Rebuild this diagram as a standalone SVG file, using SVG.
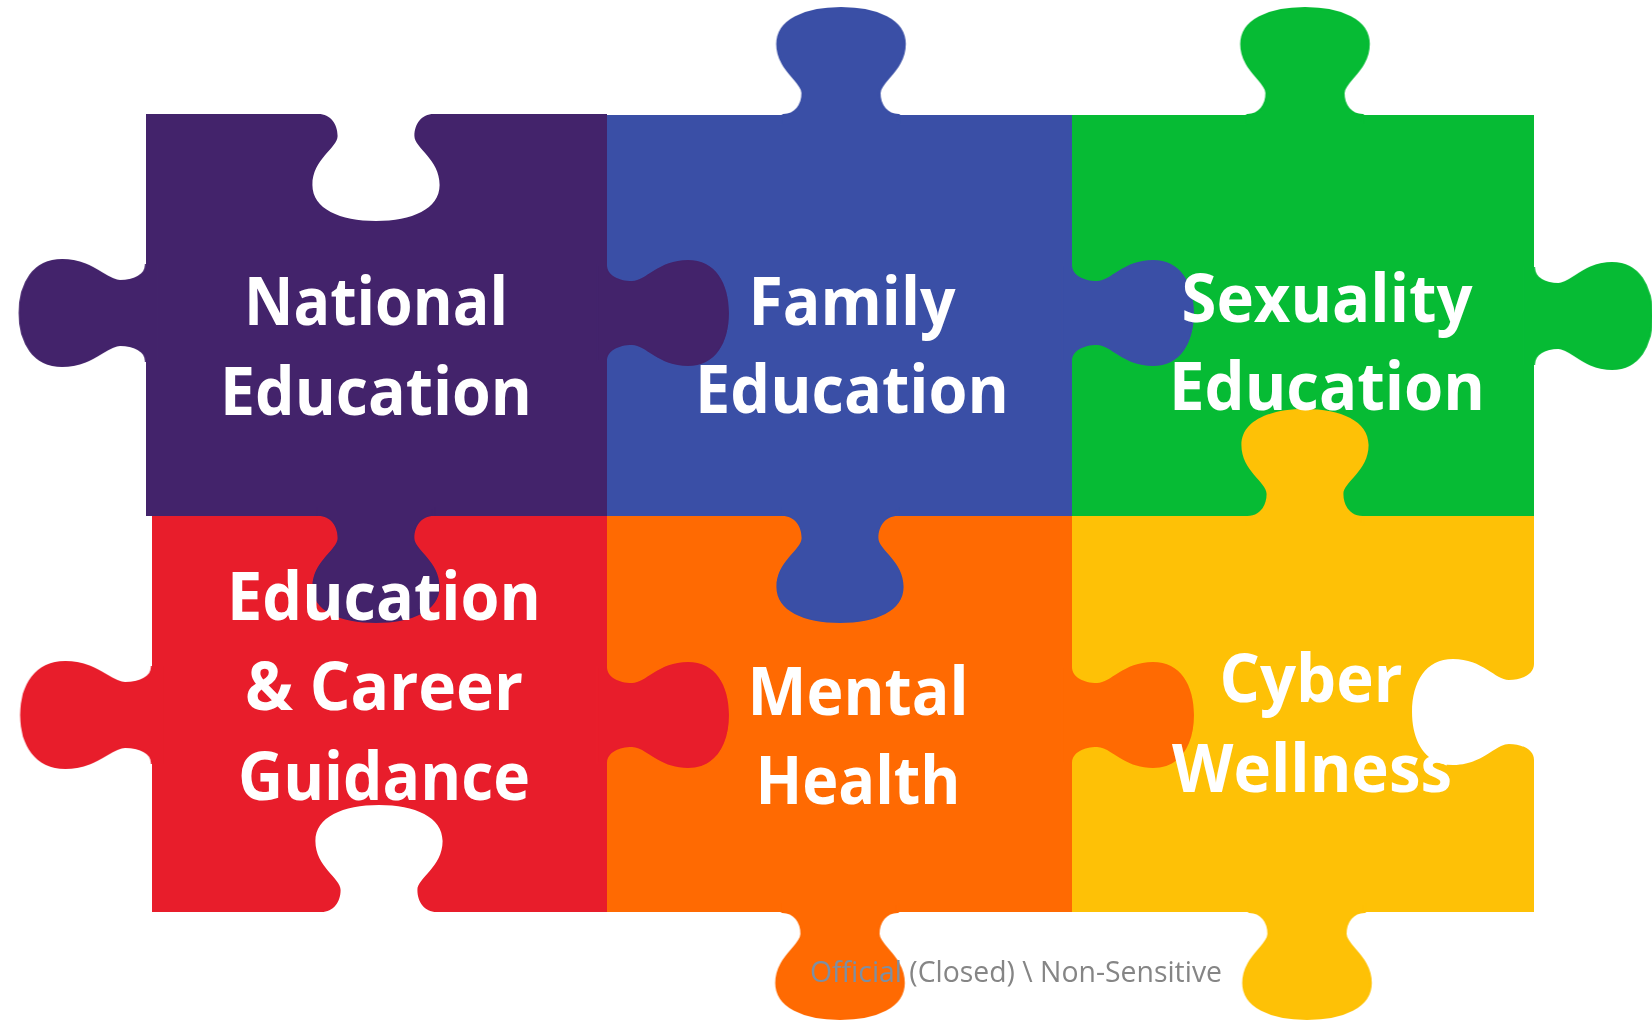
<svg xmlns="http://www.w3.org/2000/svg" xmlns:xlink="http://www.w3.org/1999/xlink" width="1652" height="1023" viewBox="0 0 1652 1023">
  <style>
    .lbl { font-family: "Open Sans", "Noto Sans", "Liberation Sans", sans-serif; font-weight: 700; font-size: 66px; fill: #ffffff; text-anchor: middle; }
    .foot { font-family: "Open Sans", "Noto Sans", "Liberation Sans", sans-serif; font-size: 29px; fill: #858585; }
    .tab { stroke-width: 2; }
    #national { color: #43236b; }
    #family { color: #3a4fa6; }
    #sexuality { color: #06bb34; }
    #career { color: #e81d2b; }
    #mental { color: #ff6a02; }
    #cyber { color: #fec106; }
  </style>
  <defs>
    <path id="tab" d="M -48,-8 L -48,0 C -38,0 -32,10 -32,22 C -32,34 -53,45 -53,71 C -53,95 -30,107 0,107 C 30,107 53,95 53,71 C 53,45 32,34 32,22 C 32,10 38,0 48,0 L 48,-8 Z"/>
    <mask id="m-national" maskUnits="userSpaceOnUse" x="0" y="0" width="1652" height="1023">
      <rect x="0" y="0" width="1652" height="1023" fill="#fff"/>
      <use xlink:href="#tab" href="#tab" fill="#000" transform="matrix(1.2,0,0,1,376,114)"/>
    </mask>
    <mask id="m-family" maskUnits="userSpaceOnUse" x="0" y="0" width="1652" height="1023">
      <rect x="0" y="0" width="1652" height="1023" fill="#fff"/>
      <use xlink:href="#tab" href="#tab" fill="#000" transform="matrix(0,1,1.14,0,607,313)"/>
    </mask>
    <mask id="m-sexuality" maskUnits="userSpaceOnUse" x="0" y="0" width="1652" height="1023">
      <rect x="0" y="0" width="1652" height="1023" fill="#fff"/>
      <use xlink:href="#tab" href="#tab" fill="#000" transform="matrix(0,1,1.14,0,1072,313)"/>
      <use xlink:href="#tab" href="#tab" fill="#000" transform="matrix(1.2,0,0,-1,1305,516)"/>
    </mask>
    <mask id="m-career" maskUnits="userSpaceOnUse" x="0" y="0" width="1652" height="1023">
      <rect x="0" y="0" width="1652" height="1023" fill="#fff"/>
      <use xlink:href="#tab" href="#tab" fill="#000" transform="matrix(1.2,0,0,1,376,516)"/>
      <use xlink:href="#tab" href="#tab" fill="#000" transform="matrix(1.2,0,0,-1,379,912)"/>
    </mask>
    <mask id="m-mental" maskUnits="userSpaceOnUse" x="0" y="0" width="1652" height="1023">
      <rect x="0" y="0" width="1652" height="1023" fill="#fff"/>
      <use xlink:href="#tab" href="#tab" fill="#000" transform="matrix(1.2,0,0,1,840,516)"/>
      <use xlink:href="#tab" href="#tab" fill="#000" transform="matrix(0,1,1.14,0,607,715)"/>
    </mask>
    <mask id="m-cyber" maskUnits="userSpaceOnUse" x="0" y="0" width="1652" height="1023">
      <rect x="0" y="0" width="1652" height="1023" fill="#fff"/>
      <use xlink:href="#tab" href="#tab" fill="#000" transform="matrix(0,1,1.14,0,1072,715)"/>
      <use xlink:href="#tab" href="#tab" fill="#000" transform="matrix(0,1,-1.14,0,1534,712)"/>
    </mask>
  </defs>

  <rect x="0" y="0" width="1652" height="1023" fill="#ffffff"/>

  <g id="national">
    <g mask="url(#m-national)">
      <rect x="146" y="114" width="461" height="402" fill="currentColor"/>
      <use class="tab" xlink:href="#tab" href="#tab" fill="currentColor" stroke="currentColor" transform="matrix(0,1,-1.18,0,146,313)"/>
      <use class="tab" xlink:href="#tab" href="#tab" fill="currentColor" stroke="currentColor" transform="matrix(0,1,1.14,0,607,313)"/>
      <use class="tab" xlink:href="#tab" href="#tab" fill="currentColor" stroke="currentColor" transform="matrix(1.2,0,0,1,376,516)"/>
    </g>
    <text class="lbl" x="376" y="325" textLength="264" lengthAdjust="spacingAndGlyphs">National</text>
    <text class="lbl" x="376" y="415" textLength="312" lengthAdjust="spacingAndGlyphs">Education</text>
  </g>

  <g id="career">
    <g mask="url(#m-career)">
      <rect x="152" y="516" width="455" height="396" fill="currentColor"/>
      <use class="tab" xlink:href="#tab" href="#tab" fill="currentColor" stroke="currentColor" transform="matrix(0,1,-1.22,0,152,715)"/>
      <use class="tab" xlink:href="#tab" href="#tab" fill="currentColor" stroke="currentColor" transform="matrix(0,1,1.14,0,607,715)"/>
    </g>
    <text class="lbl" x="384" y="620" textLength="314" lengthAdjust="spacingAndGlyphs">Education</text>
    <text class="lbl" x="384" y="710" textLength="278" lengthAdjust="spacingAndGlyphs">&amp; Career</text>
    <text class="lbl" x="384" y="800" textLength="292" lengthAdjust="spacingAndGlyphs">Guidance</text>
  </g>

  <g id="family">
    <g mask="url(#m-family)">
      <rect x="607" y="115" width="465" height="401" fill="currentColor"/>
      <use class="tab" xlink:href="#tab" href="#tab" fill="currentColor" stroke="currentColor" transform="matrix(1.2,0,0,-1,841,115)"/>
      <use class="tab" xlink:href="#tab" href="#tab" fill="currentColor" stroke="currentColor" transform="matrix(0,1,1.14,0,1072,313)"/>
      <use class="tab" xlink:href="#tab" href="#tab" fill="currentColor" stroke="currentColor" transform="matrix(1.2,0,0,1,840,516)"/>
    </g>
    <text class="lbl" x="852" y="325" textLength="207" lengthAdjust="spacingAndGlyphs">Family</text>
    <text class="lbl" x="852" y="413" textLength="314" lengthAdjust="spacingAndGlyphs">Education</text>
  </g>

  <g id="mental">
    <g mask="url(#m-mental)">
      <rect x="607" y="516" width="465" height="396" fill="currentColor"/>
      <use class="tab" xlink:href="#tab" href="#tab" fill="currentColor" stroke="currentColor" transform="matrix(0,1,1.14,0,1072,715)"/>
      <use class="tab" xlink:href="#tab" href="#tab" fill="currentColor" stroke="currentColor" transform="matrix(1.2,0,0,1,840,912)"/>
    </g>
    <text class="lbl" x="858" y="715" textLength="221" lengthAdjust="spacingAndGlyphs">Mental</text>
    <text class="lbl" x="858" y="804" textLength="205" lengthAdjust="spacingAndGlyphs">Health</text>
  </g>

  <g id="cyber">
    <g mask="url(#m-cyber)">
      <rect x="1072" y="516" width="462" height="396" fill="currentColor"/>
      <use class="tab" xlink:href="#tab" href="#tab" fill="currentColor" stroke="currentColor" transform="matrix(1.2,0,0,-1,1305,516)"/>
      <use class="tab" xlink:href="#tab" href="#tab" fill="currentColor" stroke="currentColor" transform="matrix(1.2,0,0,1,1307,912)"/>
    </g>
    <text class="lbl" x="1311" y="702" textLength="183" lengthAdjust="spacingAndGlyphs">Cyber</text>
    <text class="lbl" x="1312" y="792" textLength="280" lengthAdjust="spacingAndGlyphs">Wellness</text>
  </g>

  <g id="sexuality">
    <g mask="url(#m-sexuality)">
      <rect x="1072" y="115" width="462" height="401" fill="currentColor"/>
      <use class="tab" xlink:href="#tab" href="#tab" fill="currentColor" stroke="currentColor" transform="matrix(1.2,0,0,-1,1305,115)"/>
      <use class="tab" xlink:href="#tab" href="#tab" fill="currentColor" stroke="currentColor" transform="matrix(0,1,1.1,0,1534,316)"/>
    </g>
    <text class="lbl" x="1327" y="322" textLength="291" lengthAdjust="spacingAndGlyphs">Sexuality</text>
    <text class="lbl" x="1327" y="410" textLength="316" lengthAdjust="spacingAndGlyphs">Education</text>
  </g>

  <g id="connectors"></g>

  <g id="footer">
    <text class="foot" x="810" y="982" textLength="412" lengthAdjust="spacingAndGlyphs"><tspan fill="#7d8fa3">Official</tspan> (Closed) \ Non-Sensitive</text>
  </g>
</svg>
